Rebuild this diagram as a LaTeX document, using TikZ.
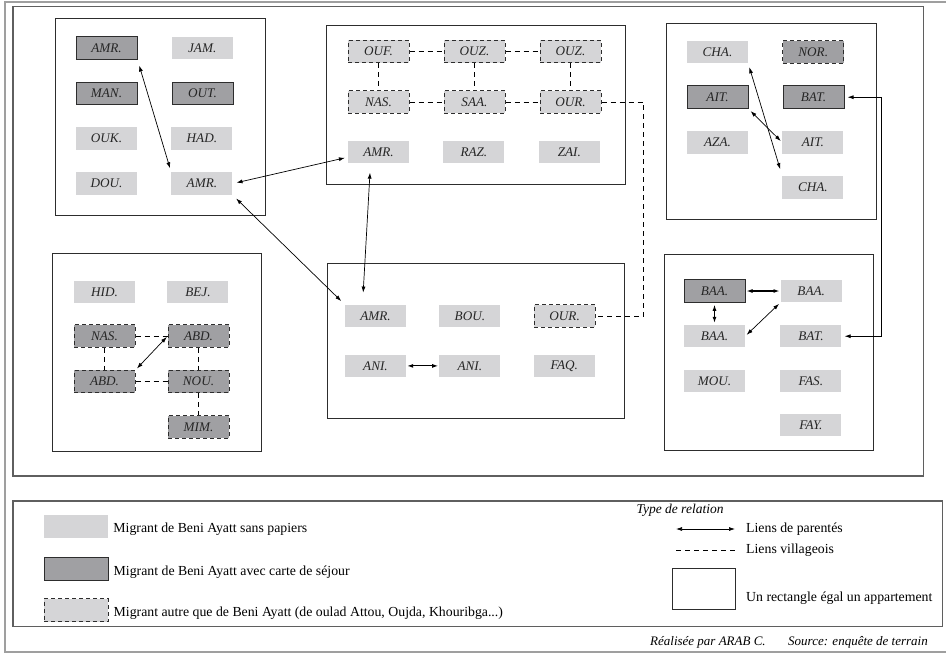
\documentclass[tikz,border=0pt]{standalone}
\usepackage{fontspec}
\setmainfont{Liberation Serif}
\usetikzlibrary{arrows.meta,positioning}

\definecolor{clair}{RGB}{213,213,215}
\definecolor{fonce}{RGB}{160,160,163}
\definecolor{trait}{RGB}{45,45,45}
\definecolor{cadre}{RGB}{95,95,95}

\begin{document}
\begin{tikzpicture}[
  x=1pt, y=-1pt,
  node distance=22pt and 34pt,
  mig/.style={minimum width=61pt, minimum height=22.5pt, inner sep=0pt, text=black!85,
    font=\fontsize{13.2}{15}\selectfont\itshape},
  sanspap/.style={mig, fill=clair},
  carte/.style={mig, fill=fonce, draw=trait, line width=1pt},
  autre/.style={mig, fill=clair, draw=trait, dash pattern=on 4pt off 3pt, line width=1pt},
  autrecarte/.style={autre, fill=fonce},
  appart/.style={draw=trait, line width=0.9pt},
  parente/.style={{Latex[length=6pt,width=4pt]}-{Latex[length=6pt,width=4pt]}, line width=0.7pt},
  village/.style={dash pattern=on 5pt off 4pt, line width=0.9pt},
  leg/.style={font=\fontsize{13.8}{16}\selectfont, anchor=west, inner sep=0pt}
]
\useasboundingbox (0,0) rectangle (946,654);

% cadres
\draw[gray!75, line width=1.5pt] (5,2) rectangle (960,652);
\draw[cadre, line width=1.4pt] (13,6.5) rectangle (923.5,476);
\draw[cadre, line width=1.2pt] (13,501) rectangle (942.5,626.5);

% appartements
\draw[appart] (55,18) rectangle (265,215);
\draw[appart] (326,25) rectangle (625,184);
\draw[appart] (666,23) rectangle (876,219);
\draw[appart] (52,253) rectangle (261,451);
\draw[appart] (327,263) rectangle (624,418);
\draw[appart] (664,254) rectangle (873,450);

% appartement 1
\node[carte] (amr1) at (106.5,48) {AMR.};
\node[sanspap, right=of amr1] (jam) {JAM.};
\node[carte, below=of amr1] (man) {MAN.};
\node[carte, right=of man] (out) {OUT.};
\node[sanspap, below=of man] (ouk) {OUK.};
\node[sanspap, right=of ouk] (had) {HAD.};
\node[sanspap, below=of ouk] (dou) {DOU.};
\node[sanspap, right=of dou] (amr2) {AMR.};

% appartement 2
\node[autre] (ouf) at (378.5,51.5) {OUF.};
\node[autre, right=of ouf] (ouz1) {OUZ.};
\node[autre, right=of ouz1] (ouz2) {OUZ.};
\node[autre, below=27pt of ouf] (nas1) {NAS.};
\node[autre, right=of nas1] (saa) {SAA.};
\node[autre, right=of saa] (our1) {OUR.};
\node[sanspap, below=27pt of nas1] (amr3) {AMR.};
\node[sanspap, right=of amr3] (raz) {RAZ.};
\node[sanspap, right=of raz] (zai) {ZAI.};

% appartement 3
\node[sanspap] (cha1) at (717.5,52) {CHA.};
\node[autrecarte, right=of cha1] (nor) {NOR.};
\node[carte, below=of cha1] (ait1) {AIT.};
\node[carte, right=of ait1] (bat1) {BAT.};
\node[sanspap, below=of ait1] (aza) {AZA.};
\node[sanspap, right=of aza] (ait2) {AIT.};
\node[sanspap, below=of ait2] (cha2) {CHA.};

% appartement 4
\node[sanspap] (hid) at (104.5,292) {HID.};
\node[sanspap, right=32pt of hid] (bej) {BEJ.};
\node[autrecarte, below=21pt of hid] (nas2) {NAS.};
\node[autrecarte, right=32pt of nas2] (abd1) {ABD.};
\node[autrecarte, below=of nas2] (abd2) {ABD.};
\node[autrecarte, right=32pt of abd2] (nou) {NOU.};
\node[autrecarte, below=of nou] (mim) {MIM.};

% appartement 5
\node[sanspap] (amr4) at (375.5,316) {AMR.};
\node[sanspap, right=33pt of amr4] (bou) {BOU.};
\node[autre, right=33pt of bou] (our2) {OUR.};
\node[sanspap, below=27pt of amr4] (ani1) {ANI.};
\node[sanspap, right=33pt of ani1] (ani2) {ANI.};
\node[sanspap, right=33pt of ani2] (faq) {FAQ.};

% appartement 6
\node[carte] (baa1) at (714.5,291) {BAA.};
\node[sanspap, right=35pt of baa1] (baa2) {BAA.};
\node[sanspap, below=of baa1] (baa3) {BAA.};
\node[sanspap, right=35pt of baa3] (bat2) {BAT.};
\node[sanspap, below=of baa3] (mou) {MOU.};
\node[sanspap, right=35pt of mou] (fas) {FAS.};
\node[sanspap, below=21pt of fas] (fay) {FAY.};

% liens villageois
\draw[village] (ouf) -- (ouz1);
\draw[village] (ouz1) -- (ouz2);
\draw[village] (nas1) -- (saa);
\draw[village] (saa) -- (our1);
\draw[village] (ouf) -- (nas1);
\draw[village] (ouz1) -- (saa);
\draw[village] (ouz2) -- (our1);
\draw[village] (our1.east) -- ++(42,0) |- (our2.east);
\draw[village] (nas2) -- (abd1);
\draw[village] (nas2) -- (abd2);
\draw[village] (abd2) -- (nou);
\draw[village] (abd1) -- (nou);
\draw[village] (nou) -- (mim);

% liens de parente
\draw[parente, shorten <=6pt, shorten >=4pt] (amr1.south east) -- (amr2.north west);
\draw[parente, shorten <=4pt, shorten >=3pt] (amr2.east) -- ([yshift=-5pt]amr3.west);
\draw[parente, shorten <=5pt, shorten >=5pt] (amr2.south east) -- (amr4.north west);
\draw[parente, shorten <=9pt, shorten >=12pt] ([xshift=-8pt]amr3.south) -- ([xshift=-13pt]amr4.north);
\draw[parente, shorten <=4pt, shorten >=7pt] (cha1.south east) -- (cha2.north west);
\draw[parente, shorten <=3pt, shorten >=2pt] (ait1.south east) -- (ait2.west);
\draw[parente, shorten <=3pt, shorten >=3pt] (bat1.east) -- ++(37,0) |- (bat2.east);
\draw[parente, shorten <=2pt, shorten >=1pt] (abd2.north east) -- (abd1.west);
\draw[parente, line width=1.1pt, shorten <=1pt, shorten >=1pt] (ani1) -- (ani2);
\draw[parente, line width=1.1pt, shorten <=1pt, shorten >=1pt] (baa1) -- (baa2);
\draw[parente, line width=1pt, shorten <=2pt, shorten >=2pt] (baa1) -- (baa3);
\draw[parente, shorten <=2pt, shorten >=2pt] (baa3.east) -- (baa2.south west);

% legende
\node[sanspap, minimum width=64pt, minimum height=23pt] (lsp) at (76,526.5) {};
\node[leg, right=5pt of lsp, yshift=-3pt] (tsp) {Migrant de Beni Ayatt sans papiers};
\node[carte, minimum width=64pt, minimum height=23pt] (lcs) at (76,569) {};
\node[leg, right=5pt of lcs, yshift=-3pt] (tcs) {Migrant de Beni Ayatt avec carte de séjour};
\node[autre, minimum width=64pt, minimum height=23pt] (lau) at (76,610) {};
\node[leg, right=5pt of lau, yshift=-3pt] (tau) {Migrant autre que de Beni Ayatt (de oulad Attou, Oujda, Khouribga...)};

\node[leg, anchor=center, font=\fontsize{13.5}{15}\selectfont\itshape] (typerel) at (680,510) {Type de relation};
\coordinate (pa) at (676,529);
\coordinate (pb) at (735,529);
\draw[parente] (pa) -- (pb);
\node[leg, right=11pt of pb] (tpa) {Liens de parentés};
\coordinate (va) at (676,550);
\coordinate (vb) at (735,550);
\draw[village] (va) -- (vb);
\node[leg, right=11pt of vb] (tva) {Liens villageois};
\node[appart, minimum width=63pt, minimum height=41pt] (lap) at (703.5,588.5) {};
\node[leg] (tap) at (746,598) {Un rectangle égal un appartement};

\node[leg, font=\fontsize{13}{15}\selectfont\itshape] (real) at (650,642) {Réalisée par ARAB C.};
\node[leg, font=\fontsize{13}{15}\selectfont\itshape] (src) at (788,642) {Source: enquête de terrain};
\end{tikzpicture}
\end{document}
